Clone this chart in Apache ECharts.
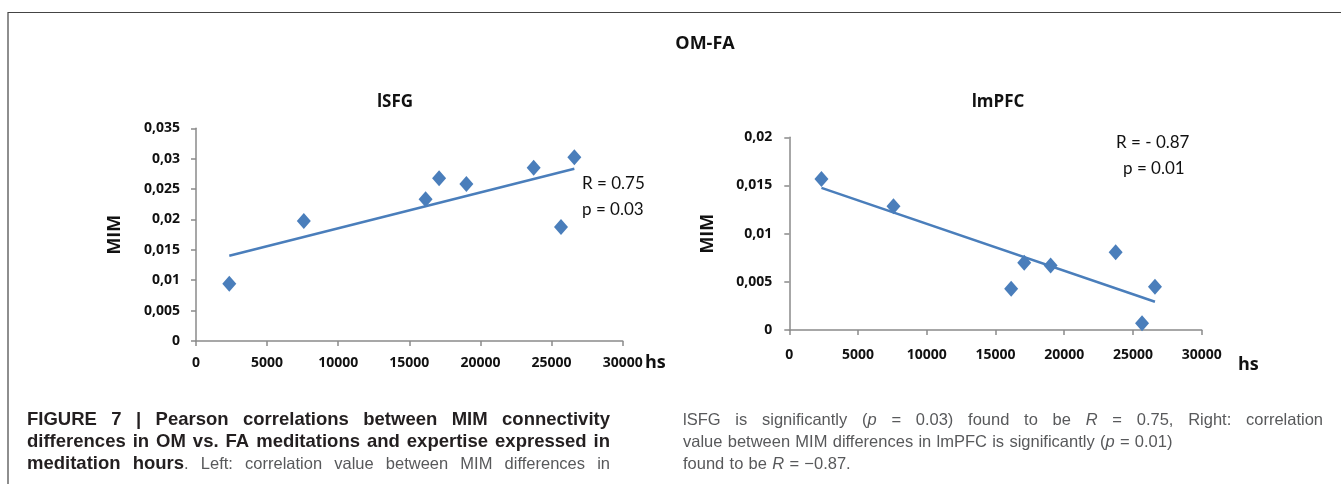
<!DOCTYPE html>
<html>
<head>
<meta charset="utf-8">
<script src="https://cdn.jsdelivr.net/npm/echarts@6/dist/echarts.min.js"></script>
<style>
html,body{margin:0;padding:0;background:#fff;}
#c{width:1341px;height:484px;}
</style>
</head>
<body>
<div id="c"></div>
<script>
// ---- data ----
const hours = [2340, 7580, 16140, 17090, 19010, 23740, 25660, 26600];
const lsfgMIM = [0.00943, 0.01975, 0.02331, 0.02677, 0.02583, 0.02852, 0.01876, 0.03023];
const lmpfcMIM = [0.01568, 0.01285, 0.00428, 0.00698, 0.0067, 0.00808, 0.00069, 0.00449];
const lsfgTrend = [0.01404, 0.02835];   // trend line values at first / last hours
const lmpfcTrend = [0.01475, 0.00293];
const xTicks = [0, 5000, 10000, 15000, 20000, 25000, 30000];
const lsfgYTicks = [0, 0.005, 0.01, 0.015, 0.02, 0.025, 0.03, 0.035];
const lmpfcYTicks = [0, 0.005, 0.01, 0.015, 0.02];

const blue = '#4a7ebb';
const axisGrey = '#8a8a8a';
const chartFont = "'Open Sans', Lato, sans-serif";
const capFont = "'Liberation Sans', Arial, sans-serif";

const pts = (xs, ys) => xs.map((x, i) => [x, ys[i]]);
const trend = (t) => [[hours[0], t[0]], [hours[hours.length - 1], t[1]]];
const fmtY = v => String(+v.toFixed(4)).replace('.', ',');

function xAx(idx, margin) {
  return {
    type: 'value', gridIndex: idx, min: xTicks[0], max: xTicks[xTicks.length - 1], interval: 5000,
    splitLine: {show: false},
    axisLine: {lineStyle: {color: axisGrey, width: 1.5}},
    axisTick: {show: true, length: 5, lineStyle: {color: axisGrey, width: 1.5}},
    axisLabel: {margin: margin, color: '#111', fontWeight: 'bold', fontSize: 14, fontFamily: chartFont,
                formatter: v => String(v)}
  };
}
function yAx(idx, ticks, interval, margin, gap) {
  return {
    type: 'value', gridIndex: idx, min: ticks[0], max: ticks[ticks.length - 1], interval: interval,
    name: 'MIM', nameLocation: 'middle', nameGap: gap, nameRotate: 90,
    nameTextStyle: {fontSize: 18, fontWeight: 'bold', color: '#111', fontFamily: chartFont},
    splitLine: {show: false},
    axisLine: {show: true, lineStyle: {color: axisGrey, width: 1.5}},
    axisTick: {show: true, length: 5, lineStyle: {color: axisGrey, width: 1.5}},
    axisLabel: {margin: margin, color: '#111', fontWeight: 'bold', fontSize: 14, fontFamily: chartFont, formatter: fmtY}
  };
}

// ---- caption text (justified word placement) ----
const capStyles = {
  b: {fontFamily: capFont, fontWeight: 'bold', fontSize: 18.5, fill: '#231f20'},
  r: {fontFamily: capFont, fontWeight: 'normal', fontSize: 16.5, fill: '#58595b'},
  i: {fontFamily: capFont, fontWeight: 'normal', fontStyle: 'italic', fontSize: 16.5, fill: '#58595b'}
};
const captionLines = [
  {x: 27, y: 420, w: 583, parts: [['b', 'FIGURE 7 | Pearson correlations between MIM connectivity']]},
  {x: 27, y: 442, w: 583, parts: [['b', 'differences in OM vs. FA meditations and expertise expressed in']]},
  {x: 27, y: 464, w: 583, parts: [['b', 'meditation hours'], ['r', '. Left: correlation value between MIM differences in']]},
  {x: 683, y: 420, w: 640, parts: [['r', 'lSFG is significantly ('], ['i', 'p'], ['r', ' = 0.03) found to be '], ['i', 'R'], ['r', ' = 0.75, Right: correlation']]},
  {x: 683, y: 442, w: 0, parts: [['r', 'value between MIM differences in lmPFC is significantly ('], ['i', 'p'], ['r', ' = 0.01)']]},
  {x: 683, y: 464, w: 0, parts: [['r', 'found to be '], ['i', 'R'], ['r', ' = \u22120.87.']]}
];
const mctx = document.createElement('canvas').getContext('2d');
function measure(style, txt) {
  mctx.font = (style.fontStyle || 'normal') + ' ' + style.fontWeight + ' ' + style.fontSize + 'px ' + style.fontFamily;
  return mctx.measureText(txt).width;
}
function captionGraphics() {
  const out = [];
  captionLines.forEach(line => {
    const words = [[]];
    line.parts.forEach(([k, t]) => {
      const chunks = t.split(' ');
      chunks.forEach((c, ci) => {
        if (ci > 0) words.push([]);
        if (c.length) words[words.length - 1].push([k, c]);
      });
    });
    const ws = words.filter(w => w.length);
    const widths = ws.map(w => w.reduce((s, [k, t]) => s + measure(capStyles[k], t), 0));
    const total = widths.reduce((a, b) => a + b, 0);
    const space = measure(capStyles.r, ' ');
    const gap = line.w ? (line.w - total) / (ws.length - 1) : space * 1.15;
    let x = line.x;
    ws.forEach((w, i) => {
      let px = x;
      w.forEach(([k, t]) => {
        out.push({type: 'text', silent: true, x: px, y: line.y,
          style: Object.assign({text: t, verticalAlign: 'middle', align: 'left'}, capStyles[k])});
        px += measure(capStyles[k], t);
      });
      x += widths[i] + gap;
    });
  });
  return out;
}

const chart = echarts.init(document.getElementById('c'), null, {renderer: 'canvas'});

chart.setOption({
  animation: false,
  backgroundColor: '#fff',
  title: [
    {text: 'OM-FA', left: 700, top: 30, textAlign: 'center',
     textStyle: {fontSize: 18, fontWeight: 'bold', color: '#111', fontFamily: chartFont}},
    {text: 'lSFG', left: 390, top: 89, textAlign: 'center',
     textStyle: {fontSize: 17, fontWeight: 'bold', color: '#111', fontFamily: chartFont}},
    {text: 'lmPFC', left: 993, top: 89, textAlign: 'center',
     textStyle: {fontSize: 17, fontWeight: 'bold', color: '#111', fontFamily: chartFont}}
  ],
  grid: [
    {left: 196, right: 718.3, top: 128.3, bottom: 143},
    {left: 789.3, right: 139.3, top: 137.3, bottom: 154}
  ],
  xAxis: [xAx(0, 15), xAx(1, 18)],
  yAxis: [yAx(0, lsfgYTicks, 0.005, 16, 72), yAx(1, lmpfcYTicks, 0.005, 17, 72)],
  series: [
    {type: 'line', xAxisIndex: 0, yAxisIndex: 0, data: trend(lsfgTrend), symbol: 'none',
     lineStyle: {color: blue, width: 2.5}, z: 2},
    {type: 'scatter', xAxisIndex: 0, yAxisIndex: 0, data: pts(hours, lsfgMIM), symbol: 'diamond',
     symbolSize: [14, 16], itemStyle: {color: blue, opacity: 1}, z: 3},
    {type: 'line', xAxisIndex: 1, yAxisIndex: 1, data: trend(lmpfcTrend), symbol: 'none',
     lineStyle: {color: blue, width: 2.5}, z: 2},
    {type: 'scatter', xAxisIndex: 1, yAxisIndex: 1, data: pts(hours, lmpfcMIM), symbol: 'diamond',
     symbolSize: [14, 16], itemStyle: {color: blue, opacity: 1}, z: 3}
  ],
  graphic: [
    {type: 'polyline', silent: true, shape: {points: [[8, 484], [8, 12.5], [1341, 12.5]]},
     style: {stroke: '#444', lineWidth: 1.2, fill: null}},
    {type: 'text', left: 645, top: 354, style: {text: 'hs', fontSize: 18, fontWeight: 'bold', fill: '#111', fontFamily: chartFont}},
    {type: 'text', left: 1238, top: 356, style: {text: 'hs', fontSize: 18, fontWeight: 'bold', fill: '#111', fontFamily: chartFont}},
    {type: 'text', left: 582, top: 171, style: {text: 'R = 0.75\np = 0.03', fontSize: 17, lineHeight: 26, fill: '#111', fontFamily: "Lato, sans-serif"}},
    {type: 'text', left: 1116, top: 134, style: {text: 'R = - 0.87', fontSize: 17, fill: '#111', fontFamily: "Lato, sans-serif"}},
    {type: 'text', left: 1123, top: 160, style: {text: 'p = 0.01', fontSize: 17, fill: '#111', fontFamily: "Lato, sans-serif"}}
  ].concat(captionGraphics())
});
</script>
</body>
</html>
